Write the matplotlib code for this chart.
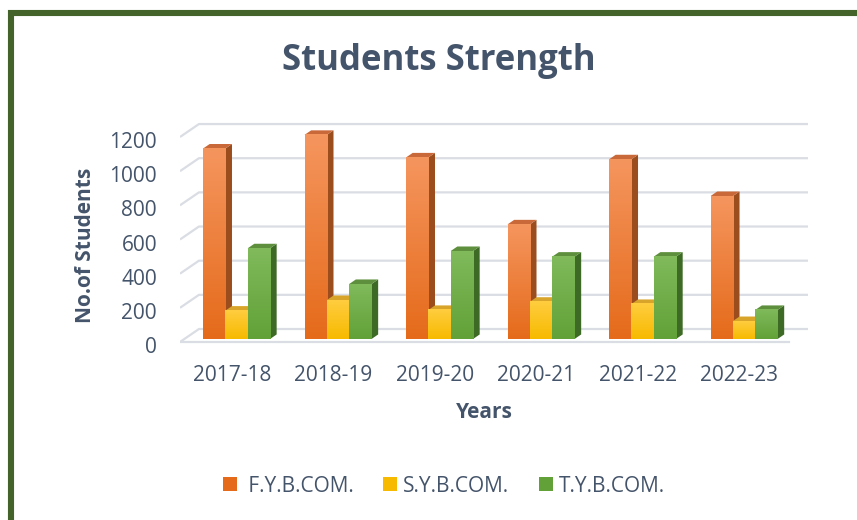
import numpy as np
import matplotlib
matplotlib.use('Agg')
import matplotlib.pyplot as plt
from matplotlib.patches import Polygon, Rectangle
from matplotlib.colors import LinearSegmentedColormap
from matplotlib.transforms import ScaledTranslation

# data
years = ['2017-18', '2018-19', '2019-20', '2020-21', '2021-22', '2022-23']
fy_bcom = [1115, 1195, 1063, 671, 1052, 837]
sy_bcom = [166, 228, 170, 218, 205, 105]
ty_bcom = [531, 322, 515, 482, 482, 170]
series_names = [' F.Y.B.COM.', 'S.Y.B.COM.', 'T.Y.B.COM.']
yticks = [0, 200, 400, 600, 800, 1000, 1200]

plt.rcParams['font.family'] = ['Open Sans', 'DejaVu Sans']
txt = '#44546A'

# (front top, front bottom, top face, side face)
shades = [
    ('#F5955E', '#E56B1B', '#C96838', '#9C4D1D'),
    ('#FFCD3F', '#F7BA00', '#D9A42A', '#B18608'),
    ('#80BA5B', '#62A138', '#5D8F3D', '#3D6A24'),
]

fig = plt.figure(figsize=(8.57, 5.2), dpi=100)
fig.patch.set_facecolor('white')

# green frame around the picture (cut at right and bottom)
fig.patches.append(Rectangle((11 / 857, -0.2), 1.2, 1.2 + (520 - 13) / 520 - 1,
                             transform=fig.transFigure, fill=False,
                             edgecolor='#43632A', linewidth=4.4))

ax = fig.add_axes([0.21, 0.3269, 0.7468, 0.4615])
x_lo, x_hi = -0.51, 5.49
for s in ax.spines.values():
    s.set_visible(False)

# fake 3d depth, in data units
DX, DY = 0.187, 76.0
f0, fd = 0.23, 0.35
ddx, ddy = fd * DX, fd * DY

# walls: grid lines on side wall + back wall
for v in yticks:
    ax.plot([x_lo, x_lo + DX, x_hi + DX], [v, v + DY, v + DY],
            color='#DADDE3', lw=1.6, zorder=1, solid_capstyle='butt')
ax.plot([x_lo, x_hi], [0, 0], color='#DADDE3', lw=1.6, zorder=1)

grad = np.linspace(0, 1, 64).reshape(-1, 1)
w = 0.22
data = [fy_bcom, sy_bcom, ty_bcom]
z = 2
for i in range(len(years)):
    for j, vals in enumerate(data):
        front_top, front_bot, top_c, side_c = shades[j]
        h = vals[i]
        x0 = i + 0.047 + (j - 1) * w - w / 2
        y0 = f0 * DY
        side = Polygon([(x0 + w, y0), (x0 + w + ddx, y0 + ddy),
                        (x0 + w + ddx, y0 + h + ddy), (x0 + w, y0 + h)],
                       closed=True, fc=side_c, ec='none', zorder=z)
        top = Polygon([(x0, y0 + h), (x0 + w, y0 + h),
                       (x0 + w + ddx, y0 + h + ddy), (x0 + ddx, y0 + h + ddy)],
                      closed=True, fc=top_c, ec='none', zorder=z)
        ax.add_patch(side)
        ax.add_patch(top)
        cmap = LinearSegmentedColormap.from_list('g', [front_bot, front_top])
        ax.imshow(grad, extent=[x0, x0 + w, y0, y0 + h], origin='lower',
                  cmap=cmap, aspect='auto', zorder=z + 0.5, interpolation='bilinear')
        z += 1

ax.set_xlim(x_lo, 5.795)
ax.set_ylim(-47, 1358)
ax.set_xticks(range(len(years)), years)
ax.set_yticks(yticks)
ax.tick_params(axis='both', length=0, labelsize=15, labelcolor=txt)
ax.tick_params(axis='y', pad=16.5)
ax.tick_params(axis='x', pad=11)

# y labels sit a little below the grid line ends
shift = ScaledTranslation(0, -3 / 100, fig.dpi_scale_trans)
for lab in ax.get_yticklabels():
    lab.set_transform(lab.get_transform() + shift)

fig.text(439 / 857, 1 - 61 / 520, 'Students Strength', ha='center', va='center',
         fontsize=25, fontweight='bold', color=txt)
fig.text(85.5 / 857, 1 - 245.5 / 520, 'No.of Students', rotation=90,
         ha='center', va='center', fontsize=15, fontweight='bold', color=txt)
fig.text(484 / 857, 1 - 412 / 520, 'Years', ha='center', va='center',
         fontsize=15, fontweight='bold', color=txt)

handles = [Rectangle((0, 0), 1, 1, fc=sh[1], ec='none') for sh in shades]
fig.legend(handles, series_names, loc='center', bbox_to_anchor=(444 / 857, 1 - 486 / 520),
           ncol=3, frameon=False, fontsize=15, handlelength=0.67, handleheight=0.67,
           handletextpad=0.3, columnspacing=1.4, labelcolor=txt)

fig.savefig('out.png', dpi=100)
